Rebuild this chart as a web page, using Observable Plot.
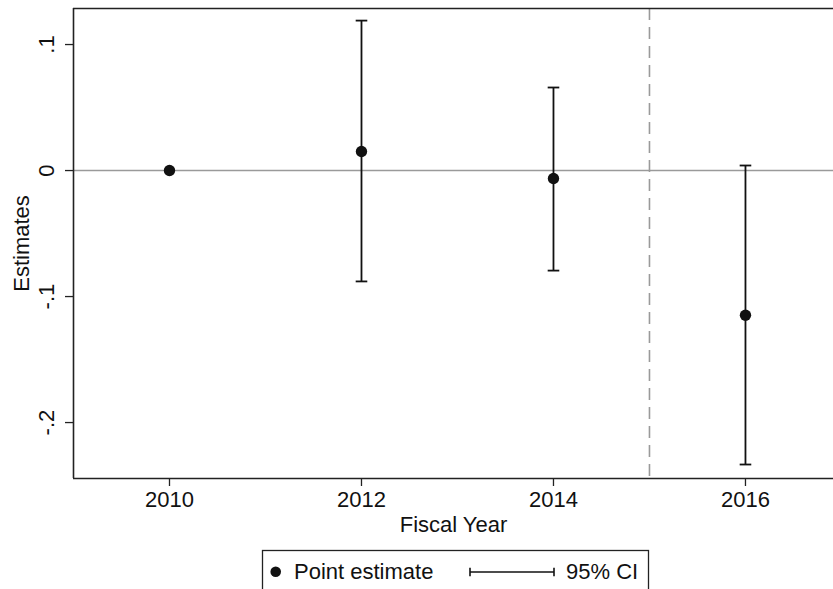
<!DOCTYPE html>
<html>
<head>
<meta charset="utf-8">
<script src="https://cdn.jsdelivr.net/npm/d3@7"></script>
<script src="https://cdn.jsdelivr.net/npm/@observablehq/plot@0.6"></script>
<style>
  html, body { margin: 0; padding: 0; background: white; }
  #wrap { position: relative; width: 833px; height: 589px; overflow: hidden; background: white;
          font-family: "Liberation Sans", Arial, sans-serif; }
  #chart { position: absolute; left: 0; top: 0; }
  #legend { position: absolute; left: 0; top: 540px; }
</style>
</head>
<body>
<div id="wrap">
  <div id="chart"></div>
  <svg id="legend" width="833" height="49" xmlns="http://www.w3.org/2000/svg"
       font-family="'Liberation Sans', Arial, sans-serif" font-size="22">
    <rect x="262.5" y="10.5" width="386" height="60" fill="white" stroke="#222" stroke-width="1.3"></rect>
    <circle cx="275.7" cy="31.7" r="5.3" fill="#111"></circle>
    <text x="294" y="38.9" fill="#111">Point estimate</text>
    <line x1="470" x2="554" y1="32" y2="32" stroke="#111" stroke-width="1.6"></line>
    <line x1="470" x2="470" y1="27.8" y2="36.2" stroke="#111" stroke-width="1.6"></line>
    <line x1="554" x2="554" y1="27.8" y2="36.2" stroke="#111" stroke-width="1.6"></line>
    <text x="566" y="38.9" fill="#111">95% CI</text>
  </svg>
</div>
<script>
// Data
const years = [2010, 2012, 2014, 2016];
const estimates = [0, 0.0151, -0.0063, -0.1148];
const ciLow = [0, -0.0880, -0.0794, -0.2333];
const ciHigh = [0, 0.1190, 0.0659, 0.0040];
const xTicks = [2010, 2012, 2014, 2016];
const yTicks = [-0.2, -0.1, 0, 0.1];
const yTickLabels = ["-.2", "-.1", "0", ".1"];
const policyYear = [2015];
const xDomain = [2009, 2016.917];
const yDomain = [-0.2444, 0.1286];

const table = years.map((year, i) => ({year, estimate: estimates[i], lo: ciLow[i], hi: ciHigh[i]}));

const capSymbol = {
  draw(context, size) {
    const r = Math.sqrt(size / Math.PI);
    context.moveTo(-r, 0);
    context.lineTo(r, 0);
  }
};

const font = "'Liberation Sans', Arial, sans-serif";

const chart = Plot.plot({
  width: 833,
  height: 540,
  marginLeft: 73,
  marginTop: 8,
  marginRight: 0,
  marginBottom: 62,
  style: {fontFamily: font, fontSize: "22px", background: "white", color: "#111", overflow: "visible"},
  x: {domain: xDomain},
  y: {domain: yDomain},
  marks: [
    Plot.ruleY([0], {stroke: "#9a9a9a", strokeWidth: 1.6}),
    Plot.ruleX(policyYear, {stroke: "#9a9a9a", strokeWidth: 1.6, strokeDasharray: "12,7"}),
    Plot.ruleX(table.filter(d => d.hi !== d.lo), {x: "year", y1: "lo", y2: "hi", stroke: "#111", strokeWidth: 1.8}),
    Plot.dot(table.filter(d => d.hi !== d.lo), {x: "year", y: "lo", symbol: capSymbol, r: 5.8, fill: "none", stroke: "#111", strokeWidth: 1.8}),
    Plot.dot(table.filter(d => d.hi !== d.lo), {x: "year", y: "hi", symbol: capSymbol, r: 5.8, fill: "none", stroke: "#111", strokeWidth: 1.8}),
    Plot.dot(table, {x: "year", y: "estimate", r: 5.7, fill: "#111", stroke: "none"}),
    Plot.axisX({ticks: xTicks, tickSize: 8, tickPadding: 5, tickFormat: d => String(d), fontSize: 22, label: null, stroke: "#222", strokeWidth: 1.3}),
    Plot.axisY({ticks: yTicks, tickSize: 8, tickFormat: () => "", label: null, stroke: "#222", strokeWidth: 1.3}),
    Plot.text(yTicks, {y: d => d, text: (d, i) => yTickLabels[i], frameAnchor: "left", dx: -20, rotate: -90,
      textAnchor: "middle", lineAnchor: "bottom", fontSize: 22, fill: "#111"}),
    Plot.text(["Estimates"], {text: d => d, frameAnchor: "left", dx: -45, rotate: -90,
      textAnchor: "middle", lineAnchor: "bottom", fontSize: 22, fill: "#111"}),
    Plot.text(["Fiscal Year"], {text: d => d, frameAnchor: "bottom", dy: 53,
      textAnchor: "middle", lineAnchor: "bottom", fontSize: 22, fill: "#111"}),
    Plot.ruleY(yDomain, {stroke: "#222", strokeWidth: 1.6}),
    Plot.ruleX([xDomain[0]], {stroke: "#222", strokeWidth: 1.6})
  ]
});

document.getElementById("chart").appendChild(chart);
</script>
</body>
</html>
